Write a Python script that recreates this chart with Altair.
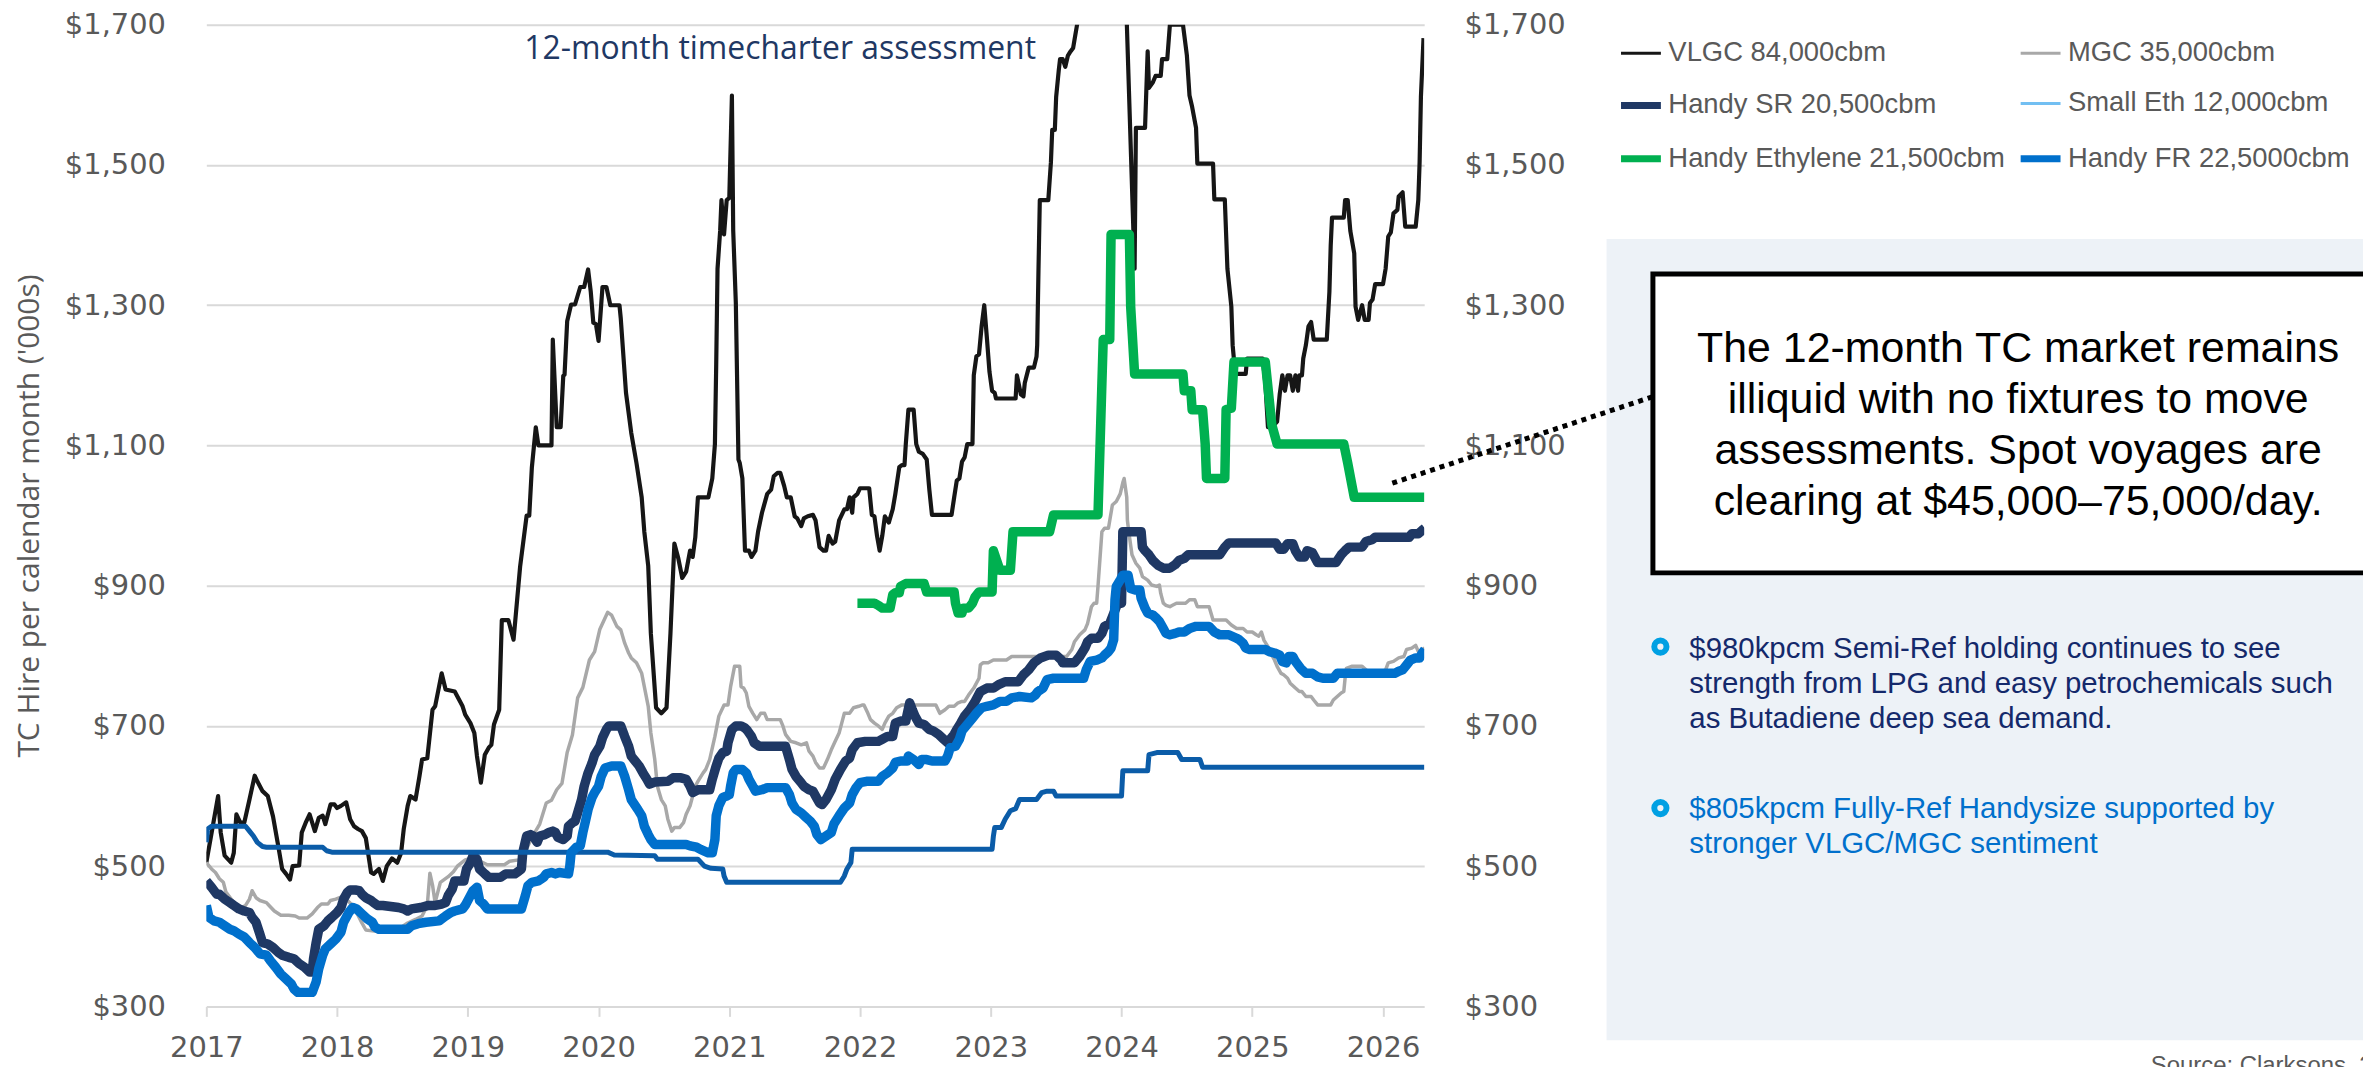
import altair as alt
import pandas as pd

# ---------------- data ----------------
X_TICKS = list(range(2017, 2027))
Y_TICKS = [300, 500, 700, 900, 1100, 1300, 1500, 1700]

SERIES = ["VLGC 84,000cbm", "MGC 35,000cbm", "Handy SR 20,500cbm",
          "Small Eth 12,000cbm", "Handy Ethylene 21,500cbm", "Handy FR 22,5000cbm"]
LINE_COLORS = ["#161616", "#a8a8a8", "#1f3864", "#0b5ca8", "#00b050", "#0070cc"]
LINE_WIDTHS = [4.2, 3.5, 9.5, 5, 9.5, 9.5]
LEGEND_COLORS = ["#161616", "#a8a8a8", "#1f3864", "#72bff2", "#00b050", "#0070cc"]
LEGEND_WIDTHS = [3, 3, 7, 3, 7, 7]

VLGC = [(2017.00,505),(2017.09,600),(2017.11,548),(2017.14,515),(2017.19,505),(2017.21,519),(2017.23,574),(2017.26,562),(2017.29,562),(2017.33,595),(2017.37,629),(2017.39,621),(2017.43,607),(2017.47,600),(2017.51,571),(2017.55,529),(2017.58,496),(2017.61,489),(2017.64,481),(2017.66,500),(2017.71,501),(2017.73,548),(2017.76,562),(2017.79,574),(2017.83,550),(2017.86,569),(2017.89,572),(2017.91,560),(2017.95,588),(2017.98,588),(2018.00,583),(2018.03,586),(2018.07,591),(2018.10,567),(2018.13,557),(2018.16,553),(2018.19,550),(2018.22,540),(2018.26,491),(2018.28,489),(2018.32,496),(2018.35,479),(2018.38,500),(2018.42,511),(2018.46,505),(2018.49,519),(2018.51,553),(2018.54,586),(2018.56,600),(2018.60,595),(2018.63,628),(2018.65,652),(2018.69,654),(2018.73,723),(2018.75,728),(2018.78,756),(2018.80,775),(2018.83,752),(2018.90,749),(2018.96,728),(2018.98,716),(2019.02,704),(2019.05,690),(2019.07,657),(2019.10,619),(2019.13,659),(2019.16,669),(2019.18,673),(2019.20,702),(2019.24,723),(2019.26,851),(2019.31,851),(2019.35,823),(2019.40,927),(2019.45,1000),(2019.47,1000),(2019.49,1069),(2019.52,1126),(2019.54,1100),(2019.64,1100),(2019.65,1251),(2019.68,1126),(2019.71,1126),(2019.73,1199),(2019.74,1201),(2019.76,1277),(2019.79,1301),(2019.82,1301),(2019.86,1326),(2019.89,1326),(2019.92,1351),(2019.94,1320),(2019.96,1275),(2019.98,1273),(2020.00,1249),(2020.03,1326),(2020.06,1326),(2020.09,1300),(2020.16,1300),(2020.17,1281),(2020.21,1175),(2020.25,1118),(2020.29,1075),(2020.33,1026),(2020.35,977),(2020.38,928),(2020.40,832),(2020.44,726),(2020.48,718),(2020.52,726),(2020.55,832),(2020.58,960),(2020.61,939),(2020.64,911),(2020.67,920),(2020.70,950),(2020.72,941),(2020.74,969),(2020.76,1026),(2020.84,1026),(2020.87,1053),(2020.89,1102),(2020.90,1216),(2020.91,1352),(2020.93,1406),(2020.94,1450),(2020.96,1401),(2020.98,1450),(2021.00,1453),(2021.02,1599),(2021.03,1406),(2021.05,1303),(2021.07,1080),(2021.08,1075),(2021.10,1053),(2021.12,950),(2021.15,950),(2021.17,941),(2021.20,950),(2021.22,977),(2021.25,1004),(2021.29,1031),(2021.32,1037),(2021.34,1056),(2021.37,1061),(2021.39,1061),(2021.42,1042),(2021.44,1026),(2021.47,1026),(2021.50,999),(2021.52,996),(2021.55,985),(2021.57,996),(2021.60,999),(2021.64,1001),(2021.66,993),(2021.69,955),(2021.72,950),(2021.74,950),(2021.76,971),(2021.79,960),(2021.81,963),(2021.84,993),(2021.88,1009),(2021.90,1009),(2021.92,1026),(2021.94,1004),(2021.95,1026),(2021.98,1031),(2022.00,1039),(2022.07,1039),(2022.09,1001),(2022.11,999),(2022.13,971),(2022.15,950),(2022.17,971),(2022.19,999),(2022.22,990),(2022.25,1009),(2022.27,1031),(2022.30,1069),(2022.32,1072),(2022.34,1072),(2022.35,1102),(2022.37,1151),(2022.41,1151),(2022.43,1102),(2022.45,1091),(2022.48,1088),(2022.51,1080),(2022.53,1037),(2022.55,1001),(2022.70,1001),(2022.72,1026),(2022.74,1050),(2022.76,1053),(2022.78,1077),(2022.80,1083),(2022.82,1102),(2022.86,1102),(2022.87,1200),(2022.89,1227),(2022.91,1230),(2022.93,1270),(2022.95,1300),(2022.97,1254),(2022.99,1205),(2023.01,1178),(2023.03,1175),(2023.04,1167),(2023.19,1167),(2023.20,1200),(2023.23,1173),(2023.25,1170),(2023.26,1189),(2023.29,1211),(2023.33,1211),(2023.35,1227),(2023.355,1243),(2023.365,1352),(2023.375,1450),(2023.44,1450),(2023.46,1504),(2023.47,1550),(2023.49,1550),(2023.50,1597),(2023.52,1635),(2023.53,1651),(2023.55,1651),(2023.57,1640),(2023.59,1656),(2023.61,1662),(2023.63,1667),(2023.64,1678),(2023.66,1700),(2023.72,1770),(2023.85,1830),(2023.97,1800),(2024.04,1705),(2024.10,1352),(2024.11,1553),(2024.18,1553),(2024.20,1662),(2024.21,1610),(2024.24,1618),(2024.26,1627),(2024.30,1627),(2024.31,1651),(2024.35,1651),(2024.37,1700),(2024.47,1700),(2024.50,1656),(2024.52,1599),(2024.54,1583),(2024.57,1553),(2024.58,1502),(2024.70,1502),(2024.71,1451),(2024.79,1451),(2024.81,1352),(2024.84,1298),(2024.85,1243),(2024.87,1202),(2024.95,1202),(2024.96,1224),(2025.08,1224),(2025.10,1189),(2025.12,1126),(2025.15,1126),(2025.19,1134),(2025.21,1173),(2025.23,1200),(2025.25,1178),(2025.27,1200),(2025.29,1200),(2025.31,1178),(2025.33,1200),(2025.35,1178),(2025.36,1200),(2025.38,1200),(2025.39,1224),(2025.41,1243),(2025.43,1270),(2025.45,1276),(2025.47,1251),(2025.57,1251),(2025.59,1319),(2025.60,1385),(2025.61,1425),(2025.70,1425),(2025.71,1450),(2025.73,1450),(2025.75,1406),(2025.78,1374),(2025.79,1298),(2025.81,1279),(2025.84,1300),(2025.86,1279),(2025.89,1279),(2025.90,1303),(2025.92,1308),(2025.94,1330),(2026.00,1330),(2026.02,1352),(2026.04,1398),(2026.06,1404),(2026.08,1431),(2026.11,1436),(2026.12,1455),(2026.15,1461),(2026.16,1436),(2026.17,1412),(2026.25,1412),(2026.27,1450),(2026.28,1504),(2026.29,1597),(2026.31,1681)]

MGC = [(2017.00,505),(2017.04,496),(2017.07,491),(2017.10,482),(2017.13,477),(2017.15,463),(2017.19,453),(2017.23,444),(2017.27,441),(2017.30,444),(2017.33,453),(2017.35,465),(2017.38,455),(2017.41,451),(2017.46,448),(2017.48,444),(2017.52,436),(2017.57,430),(2017.63,430),(2017.68,429),(2017.71,426),(2017.77,426),(2017.81,432),(2017.85,441),(2017.88,446),(2017.93,446),(2017.95,451),(2017.99,453),(2018.03,456),(2018.08,451),(2018.12,444),(2018.16,430),(2018.19,419),(2018.22,409),(2018.30,407),(2018.42,409),(2018.50,414),(2018.54,419),(2018.60,424),(2018.65,429),(2018.69,444),(2018.71,490),(2018.73,473),(2018.75,448),(2018.79,477),(2018.85,485),(2018.89,492),(2018.92,500),(2018.98,509),(2019.04,512),(2019.15,502),(2019.28,502),(2019.32,507),(2019.39,509),(2019.43,517),(2019.49,541),(2019.55,560),(2019.60,590),(2019.64,594),(2019.68,609),(2019.72,618),(2019.76,662),(2019.80,687),(2019.84,740),(2019.88,755),(2019.93,794),(2019.97,806),(2020.01,838),(2020.07,862),(2020.10,858),(2020.14,842),(2020.17,837),(2020.20,818),(2020.23,804),(2020.25,797),(2020.29,790),(2020.33,775),(2020.35,756),(2020.38,728),(2020.40,690),(2020.43,652),(2020.45,614),(2020.48,595),(2020.51,586),(2020.53,567),(2020.56,550),(2020.58,555),(2020.62,555),(2020.65,562),(2020.67,574),(2020.70,586),(2020.72,600),(2020.74,614),(2020.76,621),(2020.80,633),(2020.82,638),(2020.85,652),(2020.89,685),(2020.92,714),(2020.96,730),(2020.99,730),(2021.01,756),(2021.04,785),(2021.08,785),(2021.09,756),(2021.11,754),(2021.13,747),(2021.15,728),(2021.18,718),(2021.21,709),(2021.24,718),(2021.27,718),(2021.29,709),(2021.39,709),(2021.41,700),(2021.43,688),(2021.47,678),(2021.51,676),(2021.55,673),(2021.59,676),(2021.61,664),(2021.64,657),(2021.66,648),(2021.69,640),(2021.72,640),(2021.75,652),(2021.78,666),(2021.81,678),(2021.84,690),(2021.86,704),(2021.88,718),(2021.92,718),(2021.95,726),(2021.99,728),(2022.02,730),(2022.03,730),(2022.06,718),(2022.08,709),(2022.11,704),(2022.14,700),(2022.17,695),(2022.19,704),(2022.22,714),(2022.25,718),(2022.28,726),(2022.32,730),(2022.58,730),(2022.59,726),(2022.61,718),(2022.65,723),(2022.68,728),(2022.72,728),(2022.75,733),(2022.78,735),(2022.80,735),(2022.83,744),(2022.87,754),(2022.91,768),(2022.92,787),(2022.94,790),(2022.98,790),(2023.02,794),(2023.12,794),(2023.16,799),(2023.58,799),(2023.62,809),(2023.64,820),(2023.68,830),(2023.72,837),(2023.74,846),(2023.77,870),(2023.79,875),(2023.81,875),(2023.82,899),(2023.85,977),(2023.87,982),(2023.90,982),(2023.91,993),(2023.93,1015),(2023.96,1020),(2023.99,1031),(2024.01,1047),(2024.02,1053),(2024.04,1026),(2024.045,993),(2024.06,971),(2024.08,944),(2024.11,932),(2024.14,925),(2024.16,913),(2024.20,908),(2024.23,901),(2024.27,899),(2024.29,901),(2024.30,889),(2024.32,875),(2024.34,872),(2024.37,870),(2024.39,872),(2024.42,875),(2024.49,875),(2024.52,880),(2024.56,880),(2024.58,870),(2024.67,870),(2024.70,851),(2024.80,851),(2024.84,844),(2024.88,839),(2024.93,839),(2024.96,834),(2025.00,834),(2025.03,830),(2025.05,828),(2025.07,834),(2025.09,822),(2025.12,813),(2025.14,804),(2025.17,794),(2025.19,785),(2025.22,775),(2025.24,773),(2025.27,768),(2025.29,761),(2025.33,754),(2025.36,749),(2025.38,749),(2025.41,742),(2025.45,742),(2025.47,737),(2025.50,730),(2025.60,730),(2025.62,737),(2025.65,742),(2025.68,747),(2025.70,749),(2025.71,768),(2025.72,782),(2025.76,785),(2025.84,785),(2025.87,780),(2025.90,775),(2025.97,775),(2026.02,780),(2026.04,790),(2026.08,792),(2026.12,797),(2026.16,799),(2026.18,809),(2026.22,811),(2026.25,815),(2026.27,806),(2026.30,809),(2026.32,811)]

HANDY_SR = [(2017.00,479),(2017.04,470),(2017.08,460),(2017.10,460),(2017.14,453),(2017.18,448),(2017.21,444),(2017.25,439),(2017.29,436),(2017.33,434),(2017.35,427),(2017.38,420),(2017.41,403),(2017.43,391),(2017.47,389),(2017.51,384),(2017.55,377),(2017.58,373),(2017.63,370),(2017.67,368),(2017.71,361),(2017.75,356),(2017.79,349),(2017.81,349),(2017.82,368),(2017.84,391),(2017.86,410),(2017.90,415),(2017.93,422),(2017.96,427),(2018.00,434),(2018.03,441),(2018.05,453),(2018.08,463),(2018.10,466),(2018.14,466),(2018.17,465),(2018.19,460),(2018.22,455),(2018.26,451),(2018.28,448),(2018.31,444),(2018.35,444),(2018.47,441),(2018.51,439),(2018.54,436),(2018.57,439),(2018.64,441),(2018.70,444),(2018.75,444),(2018.80,446),(2018.83,448),(2018.85,458),(2018.88,467),(2018.90,479),(2018.97,479),(2018.99,496),(2019.02,505),(2019.04,515),(2019.07,510),(2019.09,496),(2019.13,489),(2019.16,484),(2019.25,484),(2019.29,489),(2019.36,489),(2019.39,493),(2019.41,496),(2019.42,519),(2019.45,543),(2019.48,545),(2019.50,543),(2019.53,534),(2019.55,543),(2019.59,545),(2019.62,548),(2019.65,550),(2019.67,548),(2019.69,541),(2019.73,538),(2019.76,543),(2019.77,557),(2019.80,562),(2019.82,564),(2019.84,576),(2019.87,595),(2019.89,614),(2019.92,633),(2019.95,647),(2019.97,659),(2020.01,671),(2020.03,683),(2020.06,695),(2020.08,700),(2020.17,700),(2020.20,685),(2020.23,671),(2020.25,657),(2020.28,650),(2020.31,643),(2020.34,633),(2020.37,624),(2020.39,617),(2020.43,620),(2020.53,621),(2020.57,626),(2020.63,626),(2020.67,624),(2020.70,614),(2020.72,605),(2020.76,609),(2020.85,609),(2020.87,624),(2020.90,643),(2020.92,654),(2020.95,662),(2020.98,664),(2020.99,676),(2021.02,695),(2021.05,700),(2021.09,700),(2021.12,697),(2021.14,693),(2021.17,685),(2021.19,676),(2021.23,671),(2021.43,671),(2021.46,652),(2021.48,638),(2021.51,628),(2021.55,619),(2021.57,614),(2021.61,609),(2021.64,607),(2021.66,600),(2021.69,590),(2021.71,588),(2021.74,595),(2021.78,609),(2021.81,624),(2021.85,638),(2021.89,650),(2021.92,654),(2021.94,666),(2021.98,676),(2022.04,678),(2022.14,678),(2022.17,681),(2022.21,685),(2022.25,685),(2022.27,704),(2022.31,707),(2022.35,707),(2022.36,716),(2022.38,733),(2022.40,723),(2022.42,714),(2022.45,704),(2022.49,702),(2022.53,695),(2022.56,693),(2022.60,688),(2022.64,681),(2022.67,676),(2022.69,681),(2022.72,688),(2022.74,695),(2022.77,704),(2022.80,714),(2022.84,723),(2022.88,735),(2022.92,749),(2022.97,754),(2023.02,754),(2023.06,759),(2023.11,763),(2023.21,763),(2023.25,773),(2023.29,780),(2023.33,790),(2023.38,797),(2023.44,801),(2023.50,801),(2023.54,794),(2023.55,790),(2023.64,790),(2023.68,799),(2023.72,811),(2023.74,820),(2023.77,825),(2023.82,825),(2023.85,832),(2023.87,842),(2023.91,846),(2023.95,865),(2023.97,875),(2024.00,875),(2024.01,977),(2024.15,977),(2024.16,955),(2024.18,950),(2024.21,944),(2024.24,936),(2024.28,929),(2024.32,925),(2024.37,925),(2024.41,930),(2024.44,936),(2024.48,939),(2024.51,944),(2024.75,944),(2024.79,955),(2024.82,961),(2025.18,961),(2025.21,952),(2025.24,952),(2025.27,960),(2025.31,960),(2025.33,950),(2025.36,941),(2025.40,941),(2025.42,950),(2025.46,947),(2025.50,933),(2025.64,933),(2025.68,944),(2025.71,950),(2025.74,955),(2025.84,955),(2025.87,963),(2025.92,966),(2025.94,969),(2026.20,969),(2026.22,974),(2026.27,974),(2026.30,979),(2026.32,982)]

SMALL_ETH = [(2017.00,534),(2017.01,553),(2017.04,557),(2017.30,557),(2017.33,550),(2017.36,543),(2017.39,534),(2017.43,528),(2017.46,527),(2017.89,527),(2017.92,522),(2017.96,520),(2020.00,520),(2020.07,520),(2020.12,516),(2020.43,515),(2020.45,510),(2020.76,510),(2020.79,504),(2020.81,500),(2020.86,497),(2020.95,496),(2020.96,486),(2020.98,477),(2021.85,477),(2021.88,486),(2021.90,496),(2021.93,505),(2021.94,524),(2023.01,524),(2023.02,543),(2023.03,555),(2023.08,555),(2023.11,567),(2023.15,579),(2023.19,582),(2023.22,595),(2023.35,595),(2023.39,605),(2023.43,607),(2023.48,607),(2023.50,600),(2024.00,600),(2024.01,636),(2024.20,636),(2024.21,659),(2024.27,662),(2024.43,662),(2024.46,652),(2024.60,652),(2024.62,641),(2026.32,641)]

HANDY_ETHYLENE = [(2021.98,875),(2022.11,875),(2022.14,872),(2022.17,868),(2022.23,868),(2022.25,887),(2022.27,890),(2022.30,890),(2022.31,899),(2022.35,903),(2022.49,903),(2022.51,891),(2022.72,891),(2022.73,875),(2022.75,861),(2022.78,861),(2022.79,868),(2022.83,868),(2022.86,875),(2022.88,884),(2022.91,891),(2023.01,891),(2023.02,950),(2023.07,922),(2023.15,922),(2023.17,977),(2023.45,977),(2023.48,1001),(2023.82,1001),(2023.85,1189),(2023.86,1251),(2023.91,1251),(2023.92,1401),(2024.06,1401),(2024.07,1298),(2024.10,1202),(2024.47,1202),(2024.48,1178),(2024.53,1178),(2024.54,1151),(2024.62,1151),(2024.64,1102),(2024.65,1053),(2024.79,1053),(2024.80,1151),(2024.84,1153),(2024.86,1219),(2025.10,1219),(2025.15,1129),(2025.19,1102),(2025.70,1102),(2025.73,1075),(2025.78,1026),(2026.32,1026)]

HANDY_FR = [(2017.00,444),(2017.02,427),(2017.06,422),(2017.10,420),(2017.14,415),(2017.18,410),(2017.21,408),(2017.25,403),(2017.29,399),(2017.33,391),(2017.37,384),(2017.41,375),(2017.46,373),(2017.49,365),(2017.53,356),(2017.57,346),(2017.61,339),(2017.65,332),(2017.67,325),(2017.70,320),(2017.81,320),(2017.84,335),(2017.86,354),(2017.89,373),(2017.91,382),(2017.95,389),(2017.99,396),(2018.03,406),(2018.05,420),(2018.09,434),(2018.12,441),(2018.15,439),(2018.19,432),(2018.23,425),(2018.27,420),(2018.29,413),(2018.32,410),(2018.54,410),(2018.57,415),(2018.62,418),(2018.68,420),(2018.78,422),(2018.83,429),(2018.87,434),(2018.90,436),(2018.96,439),(2018.98,444),(2019.02,458),(2019.04,465),(2019.07,470),(2019.09,451),(2019.12,446),(2019.15,439),(2019.41,439),(2019.44,458),(2019.46,472),(2019.49,477),(2019.54,479),(2019.58,484),(2019.60,489),(2019.64,491),(2019.67,489),(2019.70,491),(2019.77,489),(2019.78,500),(2019.79,519),(2019.83,527),(2019.86,529),(2019.88,548),(2019.90,564),(2019.92,581),(2019.95,598),(2019.97,605),(2020.00,614),(2020.02,628),(2020.05,640),(2020.10,643),(2020.17,643),(2020.20,628),(2020.23,609),(2020.25,595),(2020.30,581),(2020.33,572),(2020.35,557),(2020.38,545),(2020.40,538),(2020.43,531),(2020.67,531),(2020.70,529),(2020.75,527),(2020.78,524),(2020.84,519),(2020.87,519),(2020.89,538),(2020.90,572),(2020.92,586),(2020.95,598),(2020.98,600),(2021.00,602),(2021.01,614),(2021.03,633),(2021.05,638),(2021.10,638),(2021.13,633),(2021.15,624),(2021.18,614),(2021.20,607),(2021.25,609),(2021.29,612),(2021.43,612),(2021.46,602),(2021.48,590),(2021.51,581),(2021.55,576),(2021.59,569),(2021.62,564),(2021.65,557),(2021.67,545),(2021.70,538),(2021.74,543),(2021.78,548),(2021.80,560),(2021.84,572),(2021.88,583),(2021.92,590),(2021.94,602),(2021.97,612),(2022.00,619),(2022.05,621),(2022.14,621),(2022.17,628),(2022.21,633),(2022.25,640),(2022.27,648),(2022.31,650),(2022.36,650),(2022.37,657),(2022.41,652),(2022.45,645),(2022.47,652),(2022.51,652),(2022.55,650),(2022.65,650),(2022.67,657),(2022.69,669),(2022.73,671),(2022.76,681),(2022.78,693),(2022.82,702),(2022.86,711),(2022.89,718),(2022.93,726),(2022.97,728),(2023.02,730),(2023.07,735),(2023.12,735),(2023.16,740),(2023.22,742),(2023.31,740),(2023.34,744),(2023.36,749),(2023.40,754),(2023.43,766),(2023.48,768),(2023.71,768),(2023.73,780),(2023.76,792),(2023.81,794),(2023.85,797),(2023.87,801),(2023.90,806),(2023.92,811),(2023.94,823),(2023.95,880),(2023.96,899),(2023.99,908),(2024.01,915),(2024.05,915),(2024.07,896),(2024.10,894),(2024.14,894),(2024.15,882),(2024.18,868),(2024.20,861),(2024.24,858),(2024.27,853),(2024.29,849),(2024.32,839),(2024.34,832),(2024.37,830),(2024.41,832),(2024.44,834),(2024.48,834),(2024.52,839),(2024.57,842),(2024.67,842),(2024.71,834),(2024.75,830),(2024.82,830),(2024.88,825),(2024.90,823),(2024.93,818),(2024.95,811),(2024.98,809),(2025.10,809),(2025.13,806),(2025.17,804),(2025.21,801),(2025.23,792),(2025.26,790),(2025.28,799),(2025.31,799),(2025.33,792),(2025.37,782),(2025.41,775),(2025.46,775),(2025.50,770),(2025.54,768),(2025.62,768),(2025.65,775),(2026.09,775),(2026.12,778),(2026.15,780),(2026.18,787),(2026.21,794),(2026.25,797),(2026.28,797),(2026.30,804),(2026.32,809)]

# drawing order (bottom -> top), as in the source workbook
SERIES_POINTS = [VLGC, MGC, HANDY_SR, SMALL_ETH, HANDY_ETHYLENE, HANDY_FR]

TITLE_TEXT = "12-month timecharter assessment"
Y_TITLE = "TC Hire per calendar month ('000s)"
BOX_LINES = ["The 12-month TC market remains", "illiquid with no fixtures to move",
             "assessments. Spot voyages are", "clearing at $45,000\u201375,000/day."]
BULLET_1 = ["$980kpcm Semi-Ref holding continues to see",
            "strength from LPG and easy petrochemicals such",
            "as Butadiene deep sea demand."]
BULLET_2 = ["$805kpcm Fully-Ref Handysize supported by",
            "stronger VLGC/MGC sentiment"]
SOURCE_TEXT = "Source: Clarksons, 2026"

# ---------------- chart ----------------
PLOT_W, PLOT_H = 1222, 985
GREY = "#595959"
GRID = "#d9d9d9"

XSCALE = alt.Scale(domain=[2017, 2026.315], nice=False, zero=False)
YSCALE = alt.Scale(domain=[300, 1700], nice=False, zero=False)

XAXIS = alt.Axis(values=X_TICKS, format="d", grid=False, domain=False, ticks=True,
                 tickSize=10, tickColor=GRID, tickWidth=2, labelFont="DejaVu Sans",
                 labelFontSize=29, labelColor=GREY, labelPadding=17, labelFlush=False,
                 labelOverlap=False, labelAngle=0, title=None)
YAXIS_LEFT = alt.Axis(values=Y_TICKS, format="$,d", grid=True, gridColor=GRID, gridWidth=2,
                      domain=False, ticks=False, tickSize=0, labelFont="DejaVu Sans",
                      labelFontSize=29, labelColor=GREY, labelPadding=41, labelOverlap=False,
                      title=Y_TITLE, titleFont="Open Sans", titleFontSize=30,
                      titleFontWeight="normal", titleColor=GREY, titleX=-168,
                      titleY=PLOT_H / 2, titleAlign="center", titleBaseline="alphabetic")
YAXIS_RIGHT = alt.Axis(orient="right", values=Y_TICKS, format="$,d", grid=False, domain=False,
                       ticks=False, tickSize=0, labelFont="DejaVu Sans", labelFontSize=29,
                       labelColor=GREY, labelPadding=40, labelOverlap=False, title=None)

layers = []
for k, pts in enumerate(SERIES_POINTS):
    df = pd.DataFrame({"year": [p[0] for p in pts], "value": [p[1] for p in pts],
                       "i": list(range(len(pts)))})
    layers.append(
        alt.Chart(df).mark_line(color=LINE_COLORS[k], strokeWidth=LINE_WIDTHS[k],
                                clip=True, strokeJoin="round").encode(
            x=alt.X("year:Q", scale=XSCALE, axis=XAXIS),
            y=alt.Y("value:Q", scale=YSCALE, axis=YAXIS_LEFT if k == 0 else None),
            order=alt.Order("i:Q"),
        )
    )

LEGEND = alt.Legend(title=None, orient="none", legendX=1416, legendY=7, columns=2,
                    direction="horizontal",
                    symbolType="stroke", symbolSize=1600, labelFont="Liberation Sans",
                    labelFontSize=27.5, labelColor=GREY, labelOffset=4, labelLimit=700,
                    rowPadding=15.5, columnPadding=1, padding=0)
legend_df = pd.DataFrame({"series": SERIES, "year": [None] * len(SERIES),
                          "value": [None] * len(SERIES)})
layers.append(
    alt.Chart(legend_df).mark_line().encode(
        x=alt.X("year:Q", scale=XSCALE, axis=XAXIS),
        y=alt.Y("value:Q", scale=YSCALE, axis=YAXIS_RIGHT),
        color=alt.Color("series:N", scale=alt.Scale(domain=SERIES, range=LEGEND_COLORS),
                        legend=LEGEND),
        strokeWidth=alt.StrokeWidth("series:N",
                                    scale=alt.Scale(type="ordinal", domain=SERIES,
                                                    range=LEGEND_WIDTHS),
                                    legend=LEGEND),
    )
)

base = alt.Chart(alt.Data(values=[{}]))
# annotation panel (right side)
layers.append(base.mark_rect(color="#edf2f7").encode(
    x=alt.value(1405), x2=alt.value(2200), y=alt.value(215), y2=alt.value(1019)))
layers.append(base.mark_rule(color="black", strokeWidth=5, strokeDash=[5, 5]).encode(
    x=alt.value(1190), y=alt.value(460), x2=alt.value(1452), y2=alt.value(373)))
layers.append(base.mark_rect(fill="white", stroke="black", strokeWidth=5).encode(
    x=alt.value(1451.5), x2=alt.value(2250), y=alt.value(250), y2=alt.value(550)))
layers.append(base.mark_text(text=BOX_LINES, font="Liberation Sans", fontSize=43,
                             lineHeight=51.4, align="center", baseline="alphabetic",
                             color="black").encode(x=alt.value(1818), y=alt.value(338)))
layers.append(base.mark_text(text=BULLET_1, font="Liberation Sans", fontSize=29.5,
                             lineHeight=35.3, align="left", baseline="alphabetic",
                             color="#14296b").encode(x=alt.value(1488), y=alt.value(635)))
layers.append(base.mark_text(text=BULLET_2, font="Liberation Sans", fontSize=29.5,
                             lineHeight=35.3, align="left", baseline="alphabetic",
                             color="#0070cc").encode(x=alt.value(1488), y=alt.value(796)))
for yy in (624, 786):
    layers.append(base.mark_point(shape="circle", filled=False, color="#00a0e3",
                                  strokeWidth=6, size=150, opacity=1).encode(
        x=alt.value(1459), y=alt.value(yy)))
layers.append(base.mark_text(text=TITLE_TEXT, font="Open Sans", fontSize=32,
                             color="#1f3864", align="left", baseline="alphabetic").encode(
    x=alt.value(319), y=alt.value(34)))
layers.append(base.mark_text(text=SOURCE_TEXT, font="Liberation Sans", fontSize=24,
                             color=GREY, align="left", baseline="top").encode(
    x=alt.value(1951), y=alt.value(1033)))

chart = alt.layer(*layers).resolve_axis(y="independent").properties(
    width=PLOT_W, height=PLOT_H,
    padding={"left": 199, "top": 15, "right": 942, "bottom": 60},
    autosize=alt.AutoSizeParams(type="none"),
).configure_view(stroke=None)

chart.save("out.html", embed_options={"renderer": "svg", "actions": False})
